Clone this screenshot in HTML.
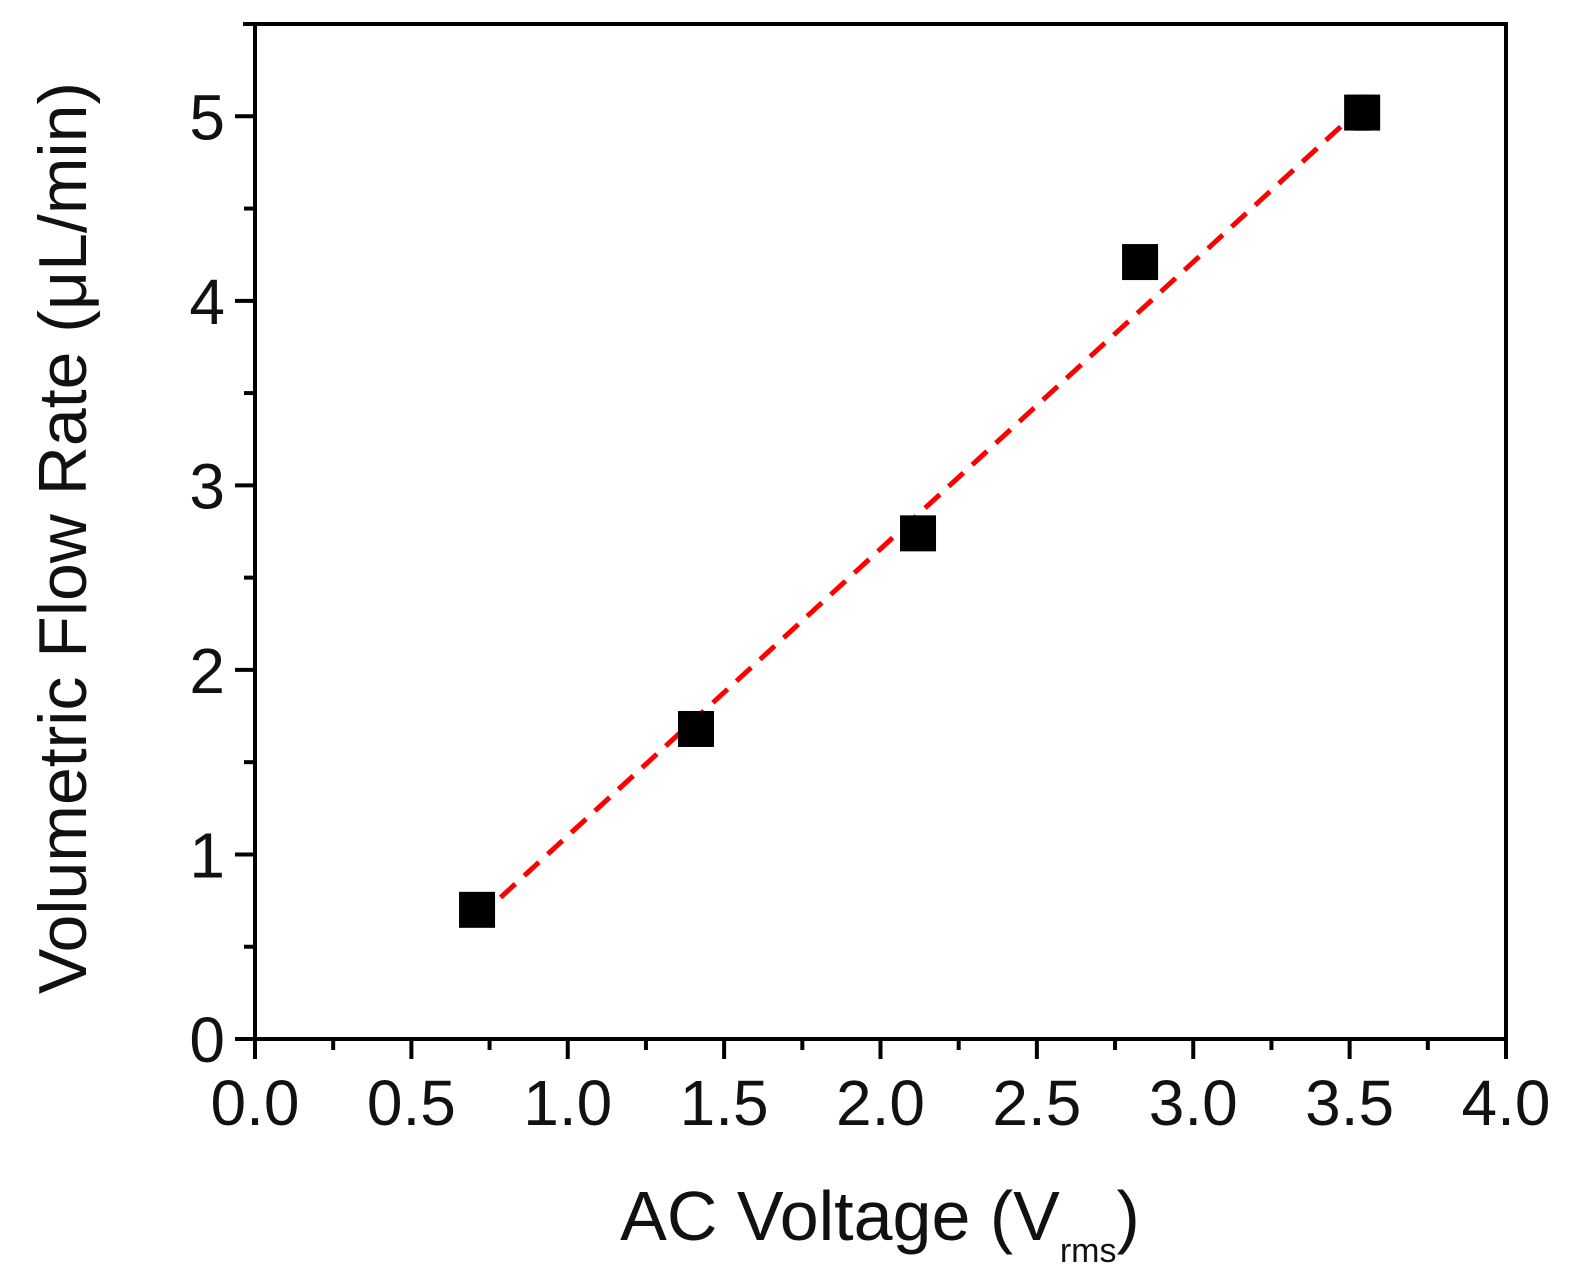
<!DOCTYPE html>
<html><head><meta charset="utf-8"><style>
body{margin:0;background:#fff}
svg{display:block;font-family:"Liberation Sans",Arial,sans-serif}
</style></head><body>
<svg id="chart" width="1569" height="1285" viewBox="0 0 1569 1285">
<rect width="1569" height="1285" fill="#fff"/>
</svg>
<script>
const xVals=[0.71,1.41,2.12,2.83,3.54];
const yVals=[0.70,1.68,2.74,4.21,5.02];
const yErr=[0.03,0.03,0.04,0.04,0.09];
const fitX=[0.71,3.54];
const fitY=[0.65,5.05];
const xTicks=[0,0.5,1,1.5,2,2.5,3,3.5,4];
const xTickLabels=["0.0","0.5","1.0","1.5","2.0","2.5","3.0","3.5","4.0"];
const yTicks=[0,1,2,3,4,5];
const yTickLabels=["0","1","2","3","4","5"];

const L=255,R=1506,T=24,B=1039;
const X=v=>L+v/4*(R-L);
const Y=v=>B-v/5.5*(B-T);
const svg=document.getElementById('chart');
const NS='http://www.w3.org/2000/svg';
function mk(tag,attrs,parent){const e=document.createElementNS(NS,tag);for(const k in attrs)e.setAttribute(k,attrs[k]);(parent||svg).appendChild(e);return e;}

let f=mk('path',{d:`M${L} ${B} V${T} H${R} V${B} Z`,fill:'none',stroke:'#000','stroke-width':4});


let t1=mk('line',{x1:L-12,y1:T,x2:L,y2:T,stroke:'#000','stroke-width':4});



xTicks.forEach((v,i)=>{
  let t=mk('line',{x1:X(v),y1:B,x2:X(v),y2:B+20,stroke:'#000','stroke-width':4});
  
  
  let tx=mk('text',{x:X(v),y:B+86,'font-size':64,'text-anchor':'middle',fill:'#111'});
  tx.textContent=xTickLabels[i];
  
  
  if(i<xTicks.length-1){
    let m=mk('line',{x1:X(v+0.25),y1:B,x2:X(v+0.25),y2:B+11,stroke:'#000','stroke-width':4});
    
    
  }
});
yTicks.forEach((v,i)=>{
  let t=mk('line',{x1:L-20,y1:Y(v),x2:L,y2:Y(v),stroke:'#000','stroke-width':4});
  
  
  let tx=mk('text',{x:L-30,y:Y(v)+23,'font-size':64,'text-anchor':'end',fill:'#111'});
  tx.textContent=yTickLabels[i];
  
  
  let m=mk('line',{x1:L-11,y1:Y(v+0.5),x2:L,y2:Y(v+0.5),stroke:'#000','stroke-width':4});
  
  
});

let fl=mk('line',{x1:X(fitX[0]),y1:Y(fitY[0]),x2:X(fitX[1]),y2:Y(fitY[1]),stroke:'#f00','stroke-width':5,'stroke-dasharray':'20 12'});



xVals.forEach((v,i)=>{
  const cx=X(v),cy=Y(yVals[i]);
  let e=mk('path',{d:`M${cx} ${Y(yVals[i]+yErr[i])} V${Y(yVals[i]-yErr[i])} M${cx-8} ${Y(yVals[i]+yErr[i])} h16 M${cx-8} ${Y(yVals[i]-yErr[i])} h16`,stroke:'#555','stroke-width':3,fill:'none'});
  
  
  let r=mk('rect',{x:cx-18,y:cy-18,width:36,height:36,fill:'#000'});
  
  
});

let xt=mk('text',{x:880,y:1240,'font-size':70,'text-anchor':'middle',fill:'#111'});
xt.innerHTML='AC Voltage (V<tspan font-size="34" dy="22">rms</tspan><tspan dy="-22">)</tspan>';


let yt=mk('text',{x:0,y:0,'font-size':68,'text-anchor':'middle',fill:'#111',transform:'translate(86,538) rotate(-90)'});
yt.textContent='Volumetric Flow Rate (\u03bcL/min)';


</script>
</body></html>
